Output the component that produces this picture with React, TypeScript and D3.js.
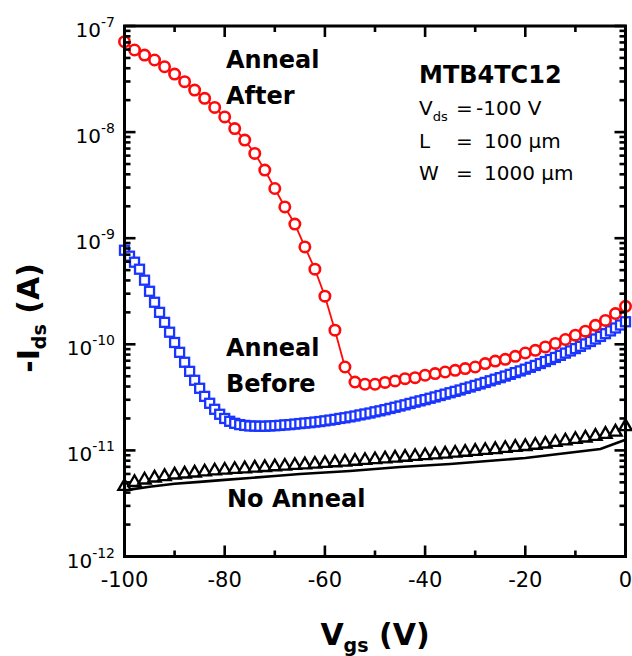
import React from 'react';
import * as d3 from 'd3';

// Gate voltage sweeps (V)
const gateStep2 = d3.range(-100, 1, 2);
const gateStep1 = d3.range(-100, 1, 1);
const gateStep5 = d3.range(-100, 1, 5);

// -Ids in pA, annealed device measured after annealing (circles, 2 V step)
const annealAfterPA = [
  71100, 59400, 53200, 47800, 41300, 35200, 29900, 24900, 20800, 17100,
  13900, 10800, 8410, 6300, 4390, 2940, 1970, 1360, 828, 511,
  284, 136, 61.1, 44.1, 42.0, 42.0, 43.7, 45.2, 47.4, 48.5,
  51.1, 53.0, 54.8, 56.9, 59.0, 61.1, 65.8, 69.5, 72.1, 77.1,
  82.8, 87.7, 94.4, 102, 111, 122, 133, 151, 168, 195,
  228,
];

// -Ids in pA, before annealing (squares, 1 V step)
const annealBeforePA = [
  770, 677, 594, 510, 402, 316, 249, 200, 161, 130,
  104, 84.0, 67.7, 55.6, 45.8, 38.5, 32.3, 27.8, 24.4, 21.9,
  20.0, 18.8, 18.0, 17.5, 17.2, 17.0, 16.95, 16.9, 16.9, 17.0,
  17.1, 17.2, 17.4, 17.5, 17.7, 17.9, 18.1, 18.25, 18.5, 18.7,
  19.0, 19.3, 19.6, 20.0, 20.3, 20.7, 21.1, 21.6, 22.05, 22.5,
  23.1, 23.6, 24.2, 24.85, 25.5, 26.2, 26.9, 27.7, 28.5, 29.3,
  30.1, 31.0, 31.9, 32.9, 33.9, 34.95, 36.0, 37.1, 38.4, 39.6,
  40.95, 42.3, 43.7, 45.3, 46.9, 48.5, 50.2, 52.1, 54.1, 56.1,
  58.3, 60.7, 63.2, 65.9, 68.8, 71.9, 75.2, 78.7, 82.6, 86.6,
  91.1, 95.7, 100.9, 106.3, 112.2, 118.7, 125.9, 133.8, 142.5, 152.1,
  163.1,
];

// -Ids in pA, device without anneal (triangles, 2 V step)
const noAnnealPA = [
  4.58, 4.99, 5.27, 5.50, 5.68, 5.87, 6.00, 6.13, 6.27, 6.41,
  6.52, 6.62, 6.72, 6.82, 6.91, 7.02, 7.11, 7.22, 7.33, 7.43,
  7.54, 7.66, 7.78, 7.91, 8.05, 8.19, 8.33, 8.48, 8.63, 8.78,
  8.93, 9.09, 9.25, 9.43, 9.62, 9.81, 10.0, 10.2, 10.45, 10.7,
  10.9, 11.2, 11.5, 11.9, 12.3, 12.7, 13.1, 13.6, 14.2, 14.9,
  16.8,
];

// -Ids in pA, no-anneal trace drawn as a plain line (5 V step)
const noAnnealTracePA = [
  4.20, 4.55, 4.85, 5.05, 5.27, 5.50, 5.74, 5.99, 6.19, 6.40,
  6.68, 6.97, 7.20, 7.45, 7.77, 8.12, 8.48, 9.05, 9.65, 10.3,
  12.6,
];

const xMajorTicks = [-100, -80, -60, -40, -20, 0];
const xMinorTicks = [-90, -70, -50, -30, -10];
const yDecades = [-12, -11, -10, -9, -8, -7];

const PICO = 1e-12;
const FONT = "'DejaVu Sans', Verdana, sans-serif";

const RED = '#ff0a0a';
const BLUE = '#1a35ff';
const BLACK = '#000000';

export default function App() {
  const left = 124.5;
  const right = 625.5;
  const top = 26;
  const bottom = 556.5;

  const x = d3.scaleLinear().domain([-100, 0]).range([left, right]);
  const y = d3.scaleLog().domain([1e-12, 1e-7]).range([bottom, top]);

  const toPoints = (vs: number[], ps: number[]) =>
    vs.map((v, i) => ({ v, i: ps[i] * PICO }));

  const after = toPoints(gateStep2, annealAfterPA);
  const before = toPoints(gateStep1, annealBeforePA);
  const noAnneal = toPoints(gateStep2, noAnnealPA);
  const noAnnealTrace = toPoints(gateStep5, noAnnealTracePA);

  const line = d3
    .line<{ v: number; i: number }>()
    .x((d) => x(d.v))
    .y((d) => y(d.i));

  const tri = d3.symbol().type(d3.symbolTriangle).size(66)() as string;

  const yMinor: number[] = [];
  for (const d of yDecades.slice(0, -1)) {
    for (let k = 2; k <= 9; k++) yMinor.push(k * Math.pow(10, d));
  }

  const major = 11;
  const minor = 6;
  const tickW = 2.6;
  const sq = 9;

  return (
    <svg
      width={632}
      height={656}
      style={{ position: 'absolute', left: 0, top: 0, background: '#fff' }}
      fontFamily={FONT}
    >
      <rect x={0} y={0} width={632} height={656} fill="#fff" />

      {/* No anneal */}
      <path d={line(noAnnealTrace) || ''} fill="none" stroke={BLACK} strokeWidth={2.6} />
      {noAnneal.map((d, k) => (
        <path
          key={`t${k}`}
          d={tri}
          transform={`translate(${x(d.v)},${y(d.i)})`}
          fill="#fff"
          stroke={BLACK}
          strokeWidth={2.3}
          strokeLinejoin="miter"
        />
      ))}

      {/* Before anneal */}
      <path d={line(before) || ''} fill="none" stroke={BLUE} strokeWidth={1.2} />
      {before.map((d, k) => (
        <rect
          key={`s${k}`}
          x={x(d.v) - sq / 2}
          y={y(d.i) - sq / 2}
          width={sq}
          height={sq}
          fill="#fff"
          stroke={BLUE}
          strokeWidth={2.3}
        />
      ))}

      {/* After anneal */}
      <path d={line(after) || ''} fill="none" stroke={RED} strokeWidth={1.8} />
      {after.map((d, k) => (
        <circle
          key={`c${k}`}
          cx={x(d.v)}
          cy={y(d.i)}
          r={5.2}
          fill="#fff"
          stroke={RED}
          strokeWidth={2.6}
        />
      ))}

      {/* Frame */}
      <rect
        x={left}
        y={top}
        width={right - left}
        height={bottom - top}
        fill="none"
        stroke={BLACK}
        strokeWidth={3}
      />

      {/* X ticks, bottom and top */}
      {xMajorTicks.map((t) => (
        <g key={`xM${t}`} stroke={BLACK} strokeWidth={tickW}>
          <line x1={x(t)} x2={x(t)} y1={bottom} y2={bottom - major} />
          <line x1={x(t)} x2={x(t)} y1={top} y2={top + major} />
        </g>
      ))}
      {xMinorTicks.map((t) => (
        <g key={`xm${t}`} stroke={BLACK} strokeWidth={tickW}>
          <line x1={x(t)} x2={x(t)} y1={bottom} y2={bottom - minor} />
          <line x1={x(t)} x2={x(t)} y1={top} y2={top + minor} />
        </g>
      ))}

      {/* Y ticks, left and right */}
      {yDecades.map((d) => {
        const yy = y(Math.pow(10, d));
        return (
          <g key={`yM${d}`} stroke={BLACK} strokeWidth={tickW}>
            <line x1={left} x2={left + major} y1={yy} y2={yy} />
            <line x1={right} x2={right - major} y1={yy} y2={yy} />
          </g>
        );
      })}
      {yMinor.map((m, k) => {
        const yy = y(m);
        return (
          <g key={`ym${k}`} stroke={BLACK} strokeWidth={tickW}>
            <line x1={left} x2={left + minor} y1={yy} y2={yy} />
            <line x1={right} x2={right - minor} y1={yy} y2={yy} />
          </g>
        );
      })}

      {/* X tick labels */}
      {xMajorTicks.map((t) => (
        <text key={`xl${t}`} x={x(t)} y={587} textAnchor="middle" fontSize={21} fill={BLACK}>
          {t}
        </text>
      ))}

      {/* Y tick labels */}
      {yDecades.map((d) => (
        <text
          key={`yl${d}`}
          x={115}
          y={y(Math.pow(10, d)) + 11}
          textAnchor="end"
          fontSize={20}
          fill={BLACK}
        >
          10
          <tspan dy={-10} fontSize={14}>
            {d}
          </tspan>
        </text>
      ))}

      {/* Axis titles */}
      <text
        transform={`translate(39,318) rotate(-90)`}
        textAnchor="middle"
        fontSize={30}
        fontWeight="bold"
        fill={BLACK}
      >
        -I
        <tspan dy={7} fontSize={19}>
          ds
        </tspan>
        <tspan dy={-7}> (A)</tspan>
      </text>
      <text x={375} y={645} textAnchor="middle" fontSize={30} fontWeight="bold" fill={BLACK}>
        V
        <tspan dy={7} fontSize={19}>
          gs
        </tspan>
        <tspan dy={-7}> (V)</tspan>
      </text>

      {/* Curve annotations */}
      <g fontSize={24} fontWeight="bold" fill={BLACK}>
        <text x={226} y={68}>Anneal</text>
        <text x={226} y={104}>After</text>
        <text x={226} y={356}>Anneal</text>
        <text x={226} y={392}>Before</text>
        <text x={227} y={507}>No Anneal</text>
        <text x={419} y={83}>MTB4TC12</text>
      </g>

      {/* Device parameters */}
      <g fontSize={20} fill={BLACK}>
        <text x={419} y={115}>
          V
          <tspan dy={6} fontSize={13}>
            ds
          </tspan>
        </text>
        <text x={456} y={115}>=</text>
        <text x={476} y={115}>-100 V</text>
        <text x={419} y={148}>L</text>
        <text x={456} y={148}>=</text>
        <text x={484} y={148}>100 μm</text>
        <text x={419} y={180}>W</text>
        <text x={456} y={180}>=</text>
        <text x={484} y={180}>1000 μm</text>
      </g>
    </svg>
  );
}
